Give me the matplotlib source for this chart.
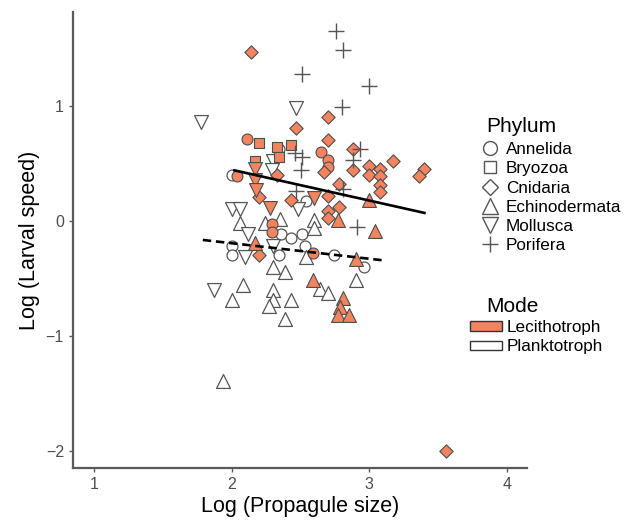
import matplotlib
matplotlib.use("Agg")
import matplotlib.pyplot as plt
from matplotlib.lines import Line2D
from matplotlib.patches import Patch

plt.rcParams['font.family'] = ['Liberation Sans', 'DejaVu Sans']

ORANGE = '#F3845F'
EDGE = '#4d4d4d'

# Lecithotroph (filled) points, per phylum
anne_lec_x = [2.11, 2.65, 2.70, 2.70, 2.04, 2.29, 2.29, 2.59]
anne_lec_y = [0.71, 0.60, 0.53, 0.47, 0.39, -0.03, -0.10, -0.28]
bryo_lec_x = [2.20, 2.33, 2.43, 2.34, 2.17]
bryo_lec_y = [0.68, 0.64, 0.66, 0.56, 0.52]
cnid_lec_x = [2.14, 2.70, 2.47, 2.70, 2.67, 2.88, 2.88, 3.00, 3.00, 3.08, 3.08, 3.08, 3.08,
              3.17, 3.40, 3.36, 2.78, 2.33, 2.20, 2.43, 2.70, 2.70, 2.70, 2.78, 2.20, 3.56]
cnid_lec_y = [1.47, 0.90, 0.81, 0.70, 0.43, 0.63, 0.44, 0.48, 0.40, 0.45, 0.39, 0.31, 0.25,
              0.52, 0.45, 0.39, 0.32, 0.40, 0.21, 0.18, 0.22, 0.09, 0.03, 0.12, -0.30, -2.00]
echi_lec_x = [3.00, 3.04, 2.77, 2.17, 2.90, 2.59, 2.81, 2.79, 2.77, 2.85]
echi_lec_y = [0.18, -0.09, 0.01, -0.19, -0.33, -0.51, -0.67, -0.75, -0.82, -0.82]
moll_lec_x = [2.17, 2.17, 2.18, 2.28, 2.60]
moll_lec_y = [0.45, 0.36, 0.27, 0.11, 0.20]

# Planktotroph (open) points, per phylum
anne_pla_x = [2.34, 2.00, 2.54, 2.36, 2.43, 2.51, 2.53, 2.00, 2.00, 2.34, 2.74, 2.96]
anne_pla_y = [0.63, 0.40, 0.17, -0.11, -0.15, -0.11, -0.22, -0.22, -0.30, -0.30, -0.30, -0.40]
echi_pla_x = [2.06, 2.24, 2.35, 2.60, 2.60, 2.54, 2.30, 2.39, 2.90, 2.64, 2.70, 2.08,
              2.00, 2.30, 2.30, 2.43, 2.39, 1.94, 2.27]
echi_pla_y = [-0.02, -0.02, 0.02, 0.01, -0.06, -0.31, -0.40, -0.44, -0.51, -0.59, -0.63, -0.56,
              -0.69, -0.60, -0.69, -0.69, -0.85, -1.39, -0.74]
moll_pla_x = [1.78, 2.47, 2.30, 2.29, 2.48, 2.00, 2.06, 2.12, 2.10, 2.30, 1.87]
moll_pla_y = [0.86, 0.98, 0.52, 0.44, 0.10, 0.10, 0.10, -0.11, -0.31, -0.22, -0.60]
pori_x = [2.76, 2.81, 2.51, 3.00, 2.80, 2.46, 2.51, 2.50, 2.93, 2.88, 2.47, 2.81, 2.91]
pori_y = [1.65, 1.49, 1.28, 1.17, 0.99, 0.59, 0.56, 0.44, 0.63, 0.53, 0.26, 0.28, -0.05]

# fitted lines
lec_fit_x = [2.02, 3.40]
lec_fit_y = [0.44, 0.07]
pla_fit_x = [1.79, 3.12]
pla_fit_y = [-0.165, -0.345]

phyla = ['Annelida', 'Bryozoa', 'Cnidaria', 'Echinodermata', 'Mollusca', 'Porifera']
modes = ['Lecithotroph', 'Planktotroph']
shapes = ['o', 's', 'D', '^', 'v', '+']
sizes = [62, 45, 46, 100, 100, 120]
key_sizes = [10, 8.5, 8, 11.5, 11.5, 12]

fig = plt.figure(figsize=(6.35, 5.2), dpi=100)
ax = fig.add_axes([73 / 635, 52 / 520, 454 / 635, 456 / 520])

open_sets = [(anne_pla_x, anne_pla_y, 0), (echi_pla_x, echi_pla_y, 3), (moll_pla_x, moll_pla_y, 4)]
for xs, ys, k in open_sets:
    ax.scatter(xs, ys, marker=shapes[k], s=sizes[k], facecolor='white', edgecolor='#555555',
               linewidths=0.9, zorder=2)

fill_sets = [(anne_lec_x, anne_lec_y, 0), (bryo_lec_x, bryo_lec_y, 1), (cnid_lec_x, cnid_lec_y, 2),
             (echi_lec_x, echi_lec_y, 3), (moll_lec_x, moll_lec_y, 4)]
for xs, ys, k in fill_sets:
    ax.scatter(xs, ys, marker=shapes[k], s=sizes[k], facecolor=ORANGE, edgecolor=EDGE,
               linewidths=0.8, zorder=3)

ax.scatter(pori_x, pori_y, marker='+', s=sizes[5], color='#555555', linewidths=1.0, zorder=3)

ax.plot(lec_fit_x, lec_fit_y, color='black', lw=1.9, zorder=4)
ax.plot(pla_fit_x, pla_fit_y, color='black', lw=1.9, ls=(0, (3.2, 1.8)), zorder=4)

ax.set_xlim(0.847, 4.145)
ax.set_ylim(-2.148, 1.817)
ax.set_xticks([1, 2, 3, 4])
ax.set_yticks([-2, -1, 0, 1])
for s in ['top', 'right']:
    ax.spines[s].set_visible(False)
for s in ['left', 'bottom']:
    ax.spines[s].set_color('#5a5a5a')
    ax.spines[s].set_linewidth(1.6)
ax.tick_params(colors='#5a5a5a', labelcolor='#4d4d4d', labelsize=11.5, length=3, width=1)
ax.set_xlabel('Log (Propagule size)', fontsize=15.5, labelpad=3)
ax.set_ylabel('Log (Larval speed)', fontsize=15.5, labelpad=4)

# legends (titles drawn as separate text so they sit indented like ggplot)
ph_handles = [Line2D([], [], ls='none', marker=shapes[i], markersize=key_sizes[i],
                     markerfacecolor='white', markeredgecolor='#555555', markeredgewidth=1.0,
                     color='#555555')
              for i in range(6)]
fig.legend(ph_handles, phyla, loc='upper left',
           bbox_to_anchor=(482 / 635, 1 - 142 / 520), frameon=False, fontsize=12.3,
           handlelength=0.9, handletextpad=0.5, labelspacing=0.25, borderaxespad=0,
           borderpad=0)
fig.text(486 / 635, 1 - 127 / 520, 'Phylum', fontsize=15, va='center', ha='left')

mode_handles = [Patch(facecolor=ORANGE, edgecolor='#333333', lw=1),
                Patch(facecolor='white', edgecolor='#333333', lw=1)]
fig.legend(mode_handles, modes, loc='upper left',
           bbox_to_anchor=(470 / 635, 1 - 320 / 520), frameon=False, fontsize=12.3,
           handlelength=1.9, handleheight=0.45, handletextpad=0.25, labelspacing=0.25,
           borderaxespad=0, borderpad=0)
fig.text(486 / 635, 1 - 307 / 520, 'Mode', fontsize=15, va='center', ha='left')

fig.savefig('out.png', dpi=100)
